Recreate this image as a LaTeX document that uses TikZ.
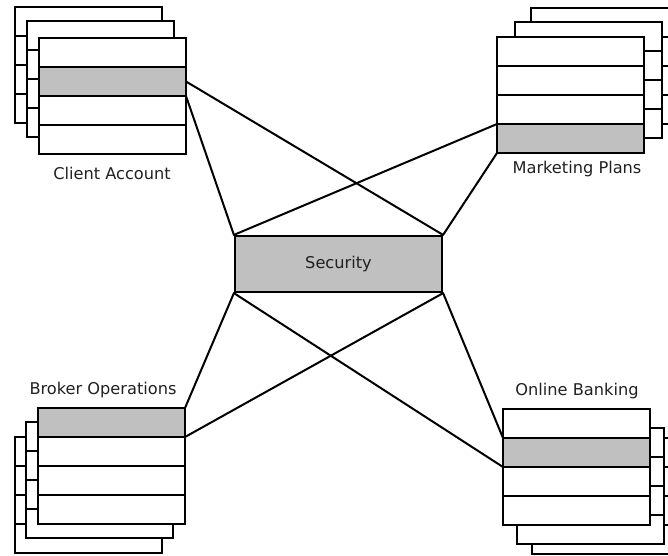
\documentclass[tikz,border=0pt]{standalone}
\usepackage{fontspec}
\setmainfont{DejaVu Sans}
\definecolor{rowgray}{HTML}{C0C0C0}
\definecolor{txt}{HTML}{202020}
\begin{document}
\begin{tikzpicture}[x=1pt,y=-1pt,
  row/.style={rectangle, draw=black, line width=2.2pt, fill=white, minimum width=147pt,
    minimum height=29pt, inner sep=0pt, outer sep=0pt, anchor=north west},
  grayrow/.style={row, fill=rowgray},
  lbl/.style={font=\fontsize{16.2}{19}\selectfont, text=txt, inner sep=0pt},
  link/.style={line width=2pt, line cap=round}]
\useasboundingbox (0,0) rectangle (668,555);
\clip (0,0) rectangle (668,555);
% ---------- Client Account (top left) ----------
\foreach \l/\x/\y in {1/15/7, 2/27/21} {
  \foreach \r in {0,1,2,3} { \node[row] (ca\l\r) at (\x,\y+29*\r) {}; }
}
\node[row]     (ca30) at (39,38) {};
\node[grayrow] (caG)  at (39,67) {};
\node[row]     (ca32) at (39,96) {};
\node[row]     (ca33) at (39,125) {};
\node[lbl] (caL) at (112,173) {Client Account};
% ---------- Marketing Plans (top right) ----------
\foreach \l/\x/\y in {1/531/8, 2/515/22} {
  \foreach \r in {0,1,2,3} { \node[row] (mp\l\r) at (\x,\y+29*\r) {}; }
}
\node[row]     (mp30) at (497,37) {};
\node[row]     (mp31) at (497,66) {};
\node[row]     (mp32) at (497,95) {};
\node[grayrow] (mpG)  at (497,124) {};
\node[lbl] (mpL) at (577,169) {Marketing Plans};
% ---------- Broker Operations (bottom left) ----------
\foreach \l/\x/\y in {1/15/437, 2/26/422} {
  \foreach \r in {0,1,2,3} { \node[row] (bo\l\r) at (\x,\y+29*\r) {}; }
}
\node[grayrow] (boG)  at (38,408) {};
\node[row]     (bo31) at (38,437) {};
\node[row]     (bo32) at (38,466) {};
\node[row]     (bo33) at (38,495) {};
\node[lbl] (boL) at (103,390) {Broker Operations};
% ---------- Online Banking (bottom right) ----------
\foreach \l/\x/\y in {1/532/438, 2/517/428} {
  \foreach \r in {0,1,2,3} { \node[row] (ob\l\r) at (\x,\y+29*\r) {}; }
}
\node[row]     (ob30) at (503,409) {};
\node[grayrow] (obG)  at (503,438) {};
\node[row]     (ob32) at (503,467) {};
\node[row]     (ob33) at (503,496) {};
\node[lbl] (obL) at (577,391) {Online Banking};
% ---------- Security ----------
\node[rectangle, draw=black, line width=2.2pt, fill=rowgray, minimum width=207pt,
  minimum height=56pt, inner sep=0pt, font=\fontsize{16.2}{19}\selectfont, text=txt]
  (sec) at (338.5,264) {Security};
% ---------- connectors ----------
\draw[link] (caG.east)       -- (sec.north east);
\draw[link] (caG.south east) -- (sec.north west);
\draw[link] (mpG.north west) -- (sec.north west);
\draw[link] (mpG.south west) -- (sec.north east);
\draw[link] (boG.north east) -- (sec.south west);
\draw[link] (boG.south east) -- (sec.south east);
\draw[link] (obG.north west) -- (sec.south east);
\draw[link] (obG.south west) -- (sec.south west);
\end{tikzpicture}
\end{document}
